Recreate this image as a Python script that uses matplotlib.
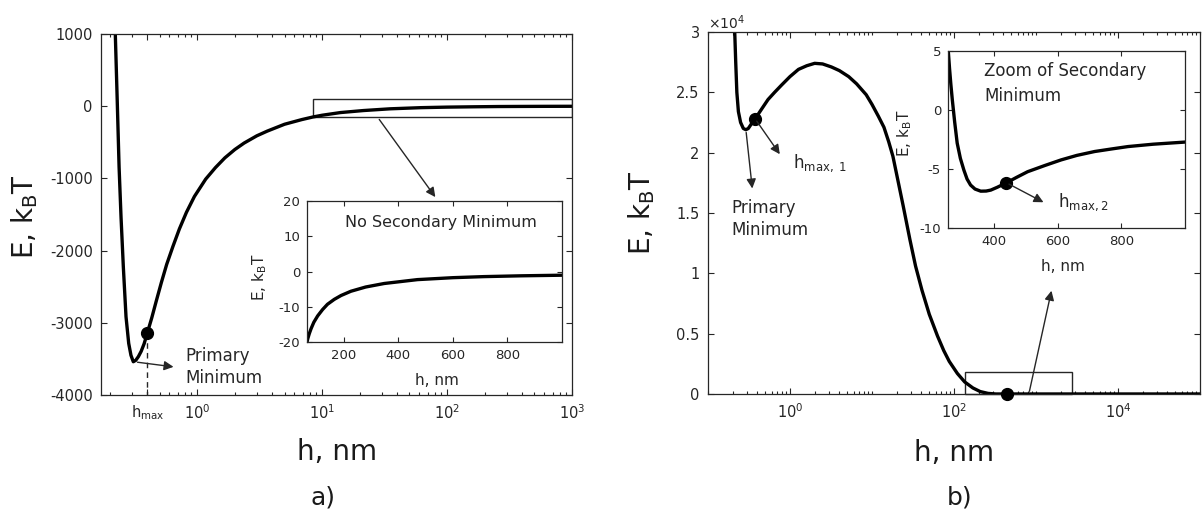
import numpy as np
import matplotlib
matplotlib.use('Agg')
import matplotlib.pyplot as plt
from matplotlib.ticker import FixedLocator, FixedFormatter, LogLocator, NullFormatter, FuncFormatter
from matplotlib.patches import Rectangle

plt.rcParams['font.family'] = ['DejaVu Sans']
plt.rcParams['axes.unicode_minus'] = False
plt.rcParams['mathtext.default'] = 'regular'

# ---------------- data: panel a ----------------
a_h = [0.221, 0.229, 0.237, 0.2456, 0.2563, 0.2693, 0.283, 0.295, 0.308, 0.322, 0.338,
       0.356, 0.376, 0.398, 0.433, 0.47, 0.517, 0.57, 0.640, 0.72, 0.820, 0.95, 1.169,
       1.4, 1.666, 2.0, 2.375, 3.0, 3.635, 5.0, 6.88, 8.5, 10.0, 14.0, 21.4, 35.0, 62.0,
       100.0, 165.0, 256.0, 400.0, 600.0, 1000.0]
a_E = [1006, 83, -840, -1532, -2224, -2916, -3285, -3450, -3539, -3520, -3469,
       -3395, -3290, -3146, -2930, -2700, -2440, -2190, -1940, -1700, -1470, -1250, -1010,
       -850, -715, -600, -510, -410, -345, -250, -185, -148, -125, -88, -60, -36, -20,
       -12.6, -7.9, -4.5, -3.0, -1.8, -1.0]
a_hmax = 0.40
a_Emax = -3146
a_xticks = [a_hmax, 1, 10, 100, 1000]
a_xticklabels = ['h$_{max}$', '$10^{0}$', '$10^{1}$', '$10^{2}$', '$10^{3}$']
a_yticks = [-4000, -3000, -2000, -1000, 0, 1000]

# inset a
ia_h = [65, 68, 73.5, 80, 90, 104, 122, 140, 165, 190, 226, 280, 348, 470,
        600, 713, 850, 1000]
ia_E = [-20, -19.0, -17.6, -16.2, -14.4, -12.6, -10.8, -9.3, -7.9, -6.8, -5.6, -4.4,
        -3.4, -2.3, -1.75, -1.45, -1.22, -1.05]
ia_xticks = [200, 400, 600, 800]
ia_yticks = [-20, -10, 0, 10, 20]

# ---------------- data: panel b ----------------
b_h = [0.205, 0.212, 0.218, 0.225, 0.235, 0.25, 0.27, 0.29, 0.31, 0.34, 0.376, 0.45,
       0.54, 0.65, 0.79, 1.0, 1.27, 1.6, 2.0, 2.5, 3.2, 4.0, 5.2, 6.5, 8.5, 10.0, 12.0,
       14.0, 16.0, 18.0, 20.0, 24.0, 29.0, 34.0, 40.7, 50.0, 63.0, 75.0, 87.6, 110.0,
       135.0, 170.0, 209.0, 260.0, 324.0, 1000.0, 1.0e5]
b_E4 = [3.3, 3.0, 2.75, 2.50, 2.34, 2.25, 2.20, 2.19, 2.20, 2.24, 2.28, 2.36,
        2.44, 2.50, 2.56, 2.63, 2.69, 2.72, 2.74, 2.735, 2.71, 2.68, 2.63, 2.57, 2.48,
        2.40, 2.30, 2.21, 2.09, 1.97, 1.82, 1.56, 1.28, 1.06, 0.86, 0.66, 0.48, 0.36,
        0.27, 0.17, 0.10, 0.05, 0.02, 0.005, 0.0, 0.0, 0.0]
b_min = (0.29, 2.19)
b_hmax1 = (0.376, 2.28)
b_xticks = [1, 1e2, 1e4]
b_xticklabels = ['$10^{0}$', '$10^{2}$', '$10^{4}$']
b_yticks4 = [0, 0.5, 1, 1.5, 2, 2.5, 3]

# inset b
ib_h = [256, 260, 264, 268.6, 276, 284, 294, 305, 315, 326, 340, 358, 375, 389.5, 410,
        439, 470, 505.5, 560, 610.7, 660, 716, 770, 821, 900, 1000]
ib_E = [5.0, 3.5, 2.2, 0.88, -1.0, -2.81, -4.1, -5.09, -5.85, -6.36, -6.7, -6.88, -6.87,
        -6.79, -6.55, -6.17, -5.72, -5.23, -4.7, -4.23, -3.85, -3.52, -3.3, -3.10, -2.90,
        -2.72]
ib_hmax2 = (439, -6.17)
ib_xticks = [400, 600, 800]
ib_yticks = [-10, -5, 0, 5]

TC = '#262626'


def style(ax, size, length=4):
    ax.tick_params(which='both', direction='in', top=True, right=True,
                   colors=TC, labelsize=size, width=0.8)
    ax.tick_params(which='major', length=length, pad=6)
    ax.tick_params(which='minor', length=length * 0.55)
    for s in ax.spines.values():
        s.set_color(TC)
        s.set_linewidth(0.9)


fig = plt.figure(figsize=(12.03, 5.13), dpi=100)

# ================= panel a =================
axA = fig.add_axes([0.0840, 0.2300, 0.3915, 0.7037])
axA.plot(a_h, a_E, color='k', lw=2.4, solid_joinstyle='round')
axA.set_xscale('log')
axA.set_xlim(0.17, 1000)
axA.set_ylim(-4000, 1000)
axA.set_yticks(a_yticks)
axA.xaxis.set_major_locator(FixedLocator(a_xticks))
axA.xaxis.set_major_formatter(FixedFormatter(a_xticklabels))
axA.xaxis.set_minor_locator(LogLocator(base=10, subs=np.arange(2, 10), numticks=30))
axA.xaxis.set_minor_formatter(NullFormatter())
style(axA, 10.5)
axA.plot([a_hmax, a_hmax], [a_Emax, -4000], ls=(0, (4, 3)), color=TC, lw=1)
axA.plot([a_hmax], [a_Emax], 'o', color='k', ms=8.5)
axA.annotate('', xy=(0.68, -3615), xytext=(0.316, -3541),
             arrowprops=dict(arrowstyle='-|>', color=TC, lw=1, mutation_scale=14))
axA.text(0.80, -3615, 'Primary\nMinimum', ha='left', va='center', fontsize=12,
         color=TC, linespacing=1.3)
axA.add_patch(Rectangle((8.5, -152), 1000 - 8.5, 249, fill=False, ec=TC, lw=1))
axA.annotate('', xy=(83, -1290), xytext=(27.8, -152),
             arrowprops=dict(arrowstyle='-|>', color=TC, lw=1, mutation_scale=14))

# inset a
iaA = fig.add_axes([0.2552, 0.3333, 0.2120, 0.2749])
iaA.plot(ia_h, ia_E, color='k', lw=2.4, solid_joinstyle='round')
iaA.set_xlim(65, 1000)
iaA.set_ylim(-20, 20)
iaA.set_xticks(ia_xticks)
iaA.set_yticks(ia_yticks)
style(iaA, 9.5, length=3.5)
iaA.tick_params(which='major', pad=5)
iaA.text(556, 13.8, 'No Secondary Minimum', ha='center', va='center', fontsize=11.5, color=TC)
iaA.text(-0.184, 0.46, 'E, k$_B$T', transform=iaA.transAxes, rotation=90,
         ha='center', va='center', fontsize=11, color=TC)
iaA.text(0.51, -0.27, 'h, nm', transform=iaA.transAxes, ha='center', va='center',
         fontsize=11, color=TC)

fig.text(25 / 1203, 1 - 217 / 513, 'E, k$_B$T', rotation=90, ha='center', va='center',
         fontsize=20, color='#1a1a1a')
fig.text(337 / 1203, 1 - 452 / 513, 'h, nm', ha='center', va='center', fontsize=20, color='#1a1a1a')
fig.text(323 / 1203, 1 - 497 / 513, 'a)', ha='center', va='center', fontsize=18, color='#1a1a1a')

# ================= panel b =================
axB = fig.add_axes([0.5885, 0.2320, 0.4090, 0.7057])
axB.plot(b_h, np.array(b_E4) * 1e4, color='k', lw=2.4, solid_joinstyle='round')
axB.set_xscale('log')
axB.set_xlim(0.1, 1e5)
axB.set_ylim(0, 3e4)
axB.set_yticks(np.array(b_yticks4) * 1e4)
axB.yaxis.set_major_formatter(FuncFormatter(lambda v, p: '%g' % (v / 1e4)))
axB.xaxis.set_major_locator(FixedLocator(b_xticks))
axB.xaxis.set_major_formatter(FixedFormatter(b_xticklabels))
axB.xaxis.set_minor_locator(LogLocator(base=10, subs=np.arange(1, 10), numticks=30))
axB.xaxis.set_minor_formatter(NullFormatter())
style(axB, 10.5)
axB.text(0.0, 1.025, r'$\times10^{4}$', transform=axB.transAxes, ha='left', va='center',
         fontsize=10, color=TC)
axB.plot([b_hmax1[0]], [b_hmax1[1] * 1e4], 'o', color='k', ms=8.5)
axB.annotate('', xy=(0.35, 1.68e4), xytext=(b_min[0], b_min[1] * 1e4),
             arrowprops=dict(arrowstyle='-|>', color=TC, lw=1, mutation_scale=14))
axB.text(0.195, 1.45e4, 'Primary\nMinimum', ha='left', va='center', fontsize=12,
         color=TC, linespacing=1.3)
axB.annotate('', xy=(0.786, 1.968e4), xytext=(b_hmax1[0], b_hmax1[1] * 1e4),
             arrowprops=dict(arrowstyle='-|>', color=TC, lw=1, mutation_scale=14))
axB.text(1.09, 1.874e4, r'h$_{max,\ 1}$', ha='left', va='baseline', fontsize=12, color=TC)
axB.add_patch(Rectangle((135, 0), 2770 - 135, 1800, fill=False, ec=TC, lw=1, clip_on=False))
axB.plot([ib_hmax2[0]], [ib_hmax2[1]], 'o', color='k', ms=8.5, clip_on=False, zorder=5)
axB.annotate('', xy=(1570, 0.878e4), xytext=(818, 0),
             arrowprops=dict(arrowstyle='-|>', color=TC, lw=1, mutation_scale=14))

# inset b
iaB = fig.add_axes([0.7880, 0.5556, 0.1970, 0.3450])
iaB.plot(ib_h, ib_E, color='k', lw=2.4, solid_joinstyle='round')
iaB.set_xlim(255, 1000)
iaB.set_ylim(-10, 5)
iaB.set_xticks(ib_xticks)
iaB.set_yticks(ib_yticks)
style(iaB, 9.5, length=3.5)
iaB.tick_params(which='major', pad=5)
iaB.plot([ib_hmax2[0]], [ib_hmax2[1]], 'o', color='k', ms=8.5)
iaB.annotate('', xy=(563, -7.93), xytext=ib_hmax2,
             arrowprops=dict(arrowstyle='-|>', color=TC, lw=1, mutation_scale=14))
iaB.text(600, -8.24, r'h$_{max,2}$', ha='left', va='baseline', fontsize=12, color=TC)
iaB.text(368, 2.23, 'Zoom of Secondary\nMinimum', ha='left', va='center', fontsize=12,
         color=TC, linespacing=1.5)
iaB.text(-0.181, 0.537, 'E, k$_B$T', transform=iaB.transAxes, rotation=90,
         ha='center', va='center', fontsize=11, color=TC)
iaB.text(0.485, -0.22, 'h, nm', transform=iaB.transAxes, ha='center', va='center',
         fontsize=11, color=TC)

fig.text(642 / 1203, 1 - 213 / 513, 'E, k$_B$T', rotation=90, ha='center', va='center',
         fontsize=20, color='#1a1a1a')
fig.text(954 / 1203, 1 - 453 / 513, 'h, nm', ha='center', va='center', fontsize=20, color='#1a1a1a')
fig.text(960 / 1203, 1 - 497 / 513, 'b)', ha='center', va='center', fontsize=18, color='#1a1a1a')

fig.savefig('out.png', dpi=100)
